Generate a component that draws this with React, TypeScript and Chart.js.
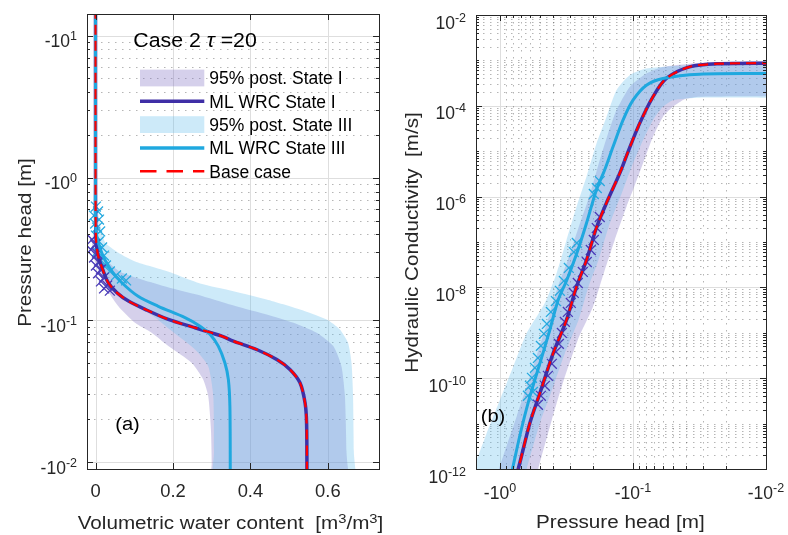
import React, { useEffect, useRef } from "react";
import { Chart, registerables } from "chart.js";

Chart.register(...registerables);

const FAMILY = "'Liberation Sans', Arial, Helvetica, sans-serif";
const AXIS = "#262626";
const GRID_MAJOR = "#dedede";
const GRID_MINOR = "rgba(60,60,60,0.38)";

const C_I_LINE = "#3F2FA6";
const C_III_LINE = "#1FA8DF";
const C_BASE = "#FF0000";
const C_I_BAND = "rgba(125,108,192,0.32)";
const C_III_BAND = "rgba(98,191,236,0.32)";
const C_I_MARK = "#4A3BB8";
const C_III_MARK = "#27AADF";

// ---------------- Panel (a): water retention  [theta (m3/m3), |h| (m)] ----------------
const wrcMlStateI: number[][] = [
  [0.0, 20], [0.0, 1.0], [0.0005, 0.45], [0.002, 0.35], [0.007, 0.281], [0.02, 0.221],
  [0.033, 0.183], [0.055, 0.156], [0.085, 0.136], [0.128, 0.119], [0.188, 0.101],
  [0.257, 0.0883], [0.326, 0.0771], [0.356, 0.0711], [0.416, 0.0621], [0.468, 0.0528],
  [0.502, 0.045], [0.528, 0.0362], [0.541, 0.0262], [0.545, 0.019], [0.546, 0.008],
];
const wrcBaseCase: number[][] = [
  [0.0, 20], [0.0, 1.0], [0.0005, 0.45], [0.002, 0.35], [0.007, 0.281], [0.02, 0.221],
  [0.033, 0.183], [0.055, 0.156], [0.085, 0.136], [0.128, 0.119], [0.188, 0.101],
  [0.257, 0.0883], [0.326, 0.0771], [0.356, 0.0711], [0.416, 0.0621], [0.468, 0.0528],
  [0.502, 0.045], [0.528, 0.0362], [0.541, 0.0262], [0.545, 0.019], [0.546, 0.008],
];
const wrcMlStateIII: number[][] = [
  [0.0, 20], [0.0, 1.0], [0.001, 0.43], [0.016, 0.297], [0.042, 0.221], [0.068, 0.183],
  [0.11, 0.147], [0.162, 0.125], [0.231, 0.104], [0.27, 0.0906], [0.296, 0.0792],
  [0.317, 0.0656], [0.334, 0.0501], [0.343, 0.0383], [0.347, 0.0248], [0.348, 0.008],
];
const wrcBandIIIUpper: number[][] = [
  [0.0, 0.75], [0.012, 0.47], [0.025, 0.351], [0.058, 0.2985], [0.102, 0.258], [0.187, 0.2196],
  [0.27, 0.1808], [0.356, 0.1596], [0.442, 0.1396], [0.528, 0.1187], [0.597, 0.1009],
  [0.631, 0.0859], [0.652, 0.0692], [0.661, 0.0501], [0.665, 0.0292], [0.667, 0.012], [0.667, 0.004],
];
const wrcBandIIILower: number[][] = [
  [0.0, 0.75], [0.0, 0.3685], [0.012, 0.2459], [0.037, 0.1837], [0.076, 0.1465], [0.115, 0.1226],
  [0.154, 0.1043], [0.192, 0.0859], [0.257, 0.0621], [0.291, 0.0474], [0.304, 0.0292],
  [0.306, 0.012], [0.306, 0.004],
];
const wrcBandIUpper: number[][] = [
  [0.0, 0.45], [0.012, 0.3133], [0.027, 0.2667], [0.061, 0.2207], [0.105, 0.1983], [0.191, 0.1687],
  [0.277, 0.1472], [0.363, 0.1252], [0.442, 0.1095], [0.511, 0.0957], [0.571, 0.0814],
  [0.614, 0.0656], [0.635, 0.0474], [0.644, 0.0292], [0.648, 0.012], [0.648, 0.004],
];
const wrcBandILower: number[][] = [
  [0.0, 0.45], [-0.0065, 0.3996], [-0.009, 0.3133], [0.001, 0.2459], [0.0245, 0.173], [0.059, 0.1252],
  [0.102, 0.0957], [0.145, 0.0814], [0.188, 0.0656], [0.248, 0.0501], [0.278, 0.0382],
  [0.291, 0.0292], [0.298, 0.017], [0.3, 0.01], [0.3, 0.004],
];
const wrcObsStateIII: number[][] = [
  [0.001, 0.628], [0.0065, 0.58], [-0.004, 0.543], [0.009, 0.509], [-0.001, 0.477], [0.004, 0.447],
  [0.012, 0.42], [0.001, 0.393], [0.009, 0.357], [0.017, 0.324], [0.004, 0.303], [0.022, 0.284],
  [0.012, 0.258], [0.027, 0.242], [0.037, 0.22], [0.053, 0.206], [0.068, 0.196], [0.079, 0.19],
];
const wrcObsStateI: number[][] = [
  [-0.009, 0.3685], [-0.001, 0.34], [-0.012, 0.313], [0.004, 0.294], [-0.004, 0.275], [0.009, 0.258],
  [0.001, 0.242], [0.014, 0.227], [0.0065, 0.213], [0.022, 0.199], [0.014, 0.187], [0.03, 0.175],
  [0.022, 0.167], [0.037, 0.161],
];

// ---------------- Panel (b): hydraulic conductivity  [|h| (m), K (m/s)] ----------------
const kMlStateI: number[][] = [
  [0.009, 8.7e-4], [0.0224, 8.45e-4], [0.0376, 7.2e-4], [0.0562, 4.0e-4], [0.0708, 1.57e-4],
  [0.0891, 4.1e-5], [0.1077, 1.06e-5], [0.1259, 3.24e-6], [0.1549, 8.4e-7], [0.1872, 2.17e-7],
  [0.2237, 4.0e-8], [0.2658, 1.04e-8], [0.316, 1.92e-9], [0.398, 3.56e-10], [0.501, 4.7e-11],
  [0.596, 1.03e-11], [0.729, 1.0e-12], [0.818, 3.2e-13],
];
const kBaseCase: number[][] = [
  [0.009, 8.7e-4], [0.0224, 8.45e-4], [0.0376, 7.2e-4], [0.0562, 4.0e-4], [0.0708, 1.57e-4],
  [0.0891, 4.1e-5], [0.1077, 1.06e-5], [0.1259, 3.24e-6], [0.1549, 8.4e-7], [0.1872, 2.17e-7],
  [0.2237, 4.0e-8], [0.2658, 1.04e-8], [0.316, 1.92e-9], [0.398, 3.56e-10], [0.501, 4.7e-11],
  [0.596, 1.03e-11], [0.729, 1.0e-12], [0.818, 3.2e-13],
];
const kMlStateIII: number[][] = [
  [0.009, 5.14e-4], [0.0316, 4.97e-4], [0.0596, 3.99e-4], [0.0793, 2.84e-4], [0.1, 1.33e-4],
  [0.1189, 4.83e-5], [0.1413, 1.25e-5], [0.1631, 3.9e-6], [0.1882, 1.42e-6], [0.2237, 2.58e-7],
  [0.2645, 5.64e-8], [0.3144, 1.46e-8], [0.3652, 5.3e-9], [0.4288, 9.8e-10], [0.5097, 1.81e-10],
  [0.6058, 3.34e-11], [0.7018, 6.2e-12], [0.806, 1.0e-12], [0.89, 3.0e-13],
];
const kBandIIIUpper: number[][] = [
  [0.009, 9.1e-4], [0.0376, 7.83e-4], [0.0793, 6.62e-4], [0.1059, 4.72e-4], [0.1332, 2.21e-4],
  [0.1583, 5.7e-5], [0.1882, 1.48e-5], [0.2237, 2.73e-6], [0.2658, 5.98e-7], [0.316, 1.11e-7],
  [0.3755, 2.05e-8], [0.4597, 4.55e-9], [0.6305, 9.8e-10], [0.7947, 1.81e-10], [1.0, 3.34e-11],
  [1.258, 6.19e-12], [1.496, 1.6e-12], [1.8, 4.8e-13],
];
const kBandIIILower: number[][] = [
  [0.009, 1.51e-4], [0.0316, 1.51e-4], [0.0501, 1.33e-4], [0.0596, 9.5e-5], [0.0708, 4.83e-5],
  [0.0841, 1.75e-5], [0.1, 5.4e-6], [0.1189, 1.39e-6], [0.1522, 2.17e-7], [0.1818, 4.02e-8],
  [0.2161, 1.04e-8], [0.2568, 1.92e-9], [0.3254, 3.56e-10], [0.4144, 4.7e-11], [0.501, 1.03e-11],
  [0.6305, 1.0e-12], [0.7, 3.0e-13],
];
const kBandIUpper: number[][] = [
  [0.009, 9.6e-4], [0.03, 8.9e-4], [0.0599, 7.18e-4], [0.0793, 5.14e-4], [0.1059, 2.61e-4],
  [0.1332, 8.0e-5], [0.154, 2.46e-5], [0.1778, 6.37e-6], [0.1995, 1.95e-6], [0.2176, 8.4e-7],
  [0.2555, 2.17e-7], [0.309, 4.02e-8], [0.3671, 1.04e-8], [0.4363, 1.92e-9], [0.5626, 1.81e-10],
  [0.7495, 1.44e-11], [1.017, 1.0e-12], [1.12, 3.0e-13],
];
const kBandILower: number[][] = [
  [0.009, 1.63e-4], [0.0316, 1.59e-4], [0.0409, 1.4e-4], [0.0501, 9.5e-5], [0.0596, 5.7e-5],
  [0.0708, 2.07e-5], [0.0841, 5.4e-6], [0.1, 1.39e-6], [0.112, 6.0e-7], [0.1372, 1.11e-7],
  [0.1659, 2.05e-8], [0.1995, 3.78e-9], [0.26, 6.98e-10], [0.3311, 9.2e-11], [0.4074, 1.21e-11],
  [0.516, 1.0e-12], [0.57, 3.0e-13],
];
const kObsStateI: number[][] = [
  [0.1778, 3.55e-7], [0.1872, 2.03e-7], [0.1971, 1.11e-7], [0.2077, 6.67e-8], [0.2225, 3.63e-8],
  [0.2384, 2.19e-8], [0.26, 1.25e-8], [0.2786, 7.55e-9], [0.2934, 4.55e-9], [0.309, 2.88e-9],
  [0.3254, 1.74e-9], [0.3426, 9.95e-10], [0.3608, 5.7e-10], [0.38, 3.8e-10], [0.4074, 2.07e-10],
  [0.4363, 1.13e-10], [0.4597, 6.8e-11], [0.4926, 4.09e-11], [0.5188, 2.6e-11],
];
const kObsStateIII: number[][] = [
  [0.1778, 2.2e-6], [0.1872, 1.54e-6], [0.1971, 1.14e-6], [0.2645, 9.5e-8], [0.2786, 6.0e-8],
  [0.3037, 2.68e-8], [0.3311, 1.39e-8], [0.3548, 8.4e-9], [0.38, 5.0e-9], [0.4144, 2.88e-9],
  [0.4441, 1.57e-9], [0.4677, 9.5e-10], [0.4926, 5.15e-10], [0.5188, 2.8e-10], [0.5463, 1.69e-10],
  [0.5752, 1.02e-10], [0.5956, 6.8e-11], [0.5656, 5.0e-11], [0.6166, 4.1e-11],
];

// ---------------- ticks & labels ----------------
const thetaTicks = [0, 0.2, 0.4, 0.6];
const thetaTickLabels = ["0", "0.2", "0.4", "0.6"];
const headDecadesA = [1, 0, -1, -2];
const headDecadesB = [0, -1, -2];
const kDecadesLabelled = [-2, -4, -6, -8, -10, -12];
const kDecadesUnlabelled = [-3, -5, -7, -9, -11];

const legendLabels = [
  "95% post. State I",
  "ML WRC State I",
  "95% post. State III",
  "ML WRC State III",
  "Base case",
];

// ---------------- helpers ----------------
type Seg = { t: string; size?: number; dy?: number; italic?: boolean };

function fontStr(size: number, italic?: boolean) {
  return `${italic ? "italic " : ""}${size}px ${FAMILY}`;
}

function drawText(
  ctx: CanvasRenderingContext2D,
  segs: Seg[],
  x: number,
  y: number,
  align: "left" | "center" | "right",
  sx = 1,
  base = 17.5,
  color = AXIS,
  rotate = false
) {
  ctx.save();
  ctx.translate(x, y);
  if (rotate) ctx.rotate(-Math.PI / 2);
  ctx.fillStyle = color;
  ctx.textAlign = "left";
  ctx.textBaseline = "alphabetic";
  const ws = segs.map((s) => {
    ctx.font = fontStr(s.size ?? base, s.italic);
    return ctx.measureText(s.t).width * sx;
  });
  const tot = ws.reduce((p, c) => p + c, 0);
  let cx = align === "left" ? 0 : align === "center" ? -tot / 2 : -tot;
  segs.forEach((s, i) => {
    ctx.font = fontStr(s.size ?? base, s.italic);
    ctx.save();
    ctx.translate(cx, s.dy ?? 0);
    ctx.scale(sx, 1);
    ctx.fillText(s.t, 0, 0);
    ctx.restore();
    cx += ws[i];
  });
  ctx.restore();
}

const pow = (b: string, e: number): Seg[] => [{ t: b }, { t: String(e), size: 12.5, dy: -7 }];

function hLine(ctx: CanvasRenderingContext2D, y: number, a: any) {
  const yy = Math.round(y) + 0.5;
  ctx.beginPath();
  ctx.moveTo(a.left, yy);
  ctx.lineTo(a.right, yy);
  ctx.stroke();
}
function vLine(ctx: CanvasRenderingContext2D, x: number, a: any) {
  const xx = Math.round(x) + 0.5;
  ctx.beginPath();
  ctx.moveTo(xx, a.top);
  ctx.lineTo(xx, a.bottom);
  ctx.stroke();
}
function yTick(ctx: CanvasRenderingContext2D, y: number, a: any, len: number) {
  const yy = Math.round(y) + 0.5;
  ctx.beginPath();
  ctx.moveTo(a.left, yy);
  ctx.lineTo(a.left + len, yy);
  ctx.moveTo(a.right, yy);
  ctx.lineTo(a.right - len, yy);
  ctx.stroke();
}
function xTick(ctx: CanvasRenderingContext2D, x: number, a: any, len: number) {
  const xx = Math.round(x) + 0.5;
  ctx.beginPath();
  ctx.moveTo(xx, a.bottom);
  ctx.lineTo(xx, a.bottom - len);
  ctx.moveTo(xx, a.top);
  ctx.lineTo(xx, a.top + len);
  ctx.stroke();
}
function logMinors(min: number, max: number) {
  const out: number[] = [];
  for (let e = Math.floor(Math.log10(min)) - 1; e <= Math.ceil(Math.log10(max)); e++) {
    for (let k = 2; k <= 9; k++) {
      const v = k * Math.pow(10, e);
      if (v > min && v < max) out.push(v);
    }
  }
  return out;
}
function drawBox(ctx: CanvasRenderingContext2D, a: any) {
  ctx.strokeStyle = AXIS;
  ctx.lineWidth = 1;
  ctx.strokeRect(Math.round(a.left) + 0.5, Math.round(a.top) + 0.5, Math.round(a.right - a.left), Math.round(a.bottom - a.top));
}

const pts = (arr: number[][]) => arr.map(([x, y]) => ({ x, y }));
const poly = (edgeA: number[][], edgeB: number[][]) => pts([...edgeA, ...edgeB.slice().reverse()]);

function buildDatasets(d: {
  bandIA: number[][]; bandIB: number[][]; bandIIIA: number[][]; bandIIIB: number[][];
  obsI: number[][]; obsIII: number[][]; mlI: number[][]; mlIII: number[][]; base: number[][];
}) {
  const bandCommon = { showLine: true, fill: "shape", borderWidth: 0, pointRadius: 0, tension: 0.2, clip: 0 };
  const lineCommon = { showLine: true, fill: false, pointRadius: 0, tension: 0.3, borderCapStyle: "butt" };
  return [
    { label: legendLabels[0], data: poly(d.bandIA, d.bandIB), backgroundColor: C_I_BAND, borderColor: "rgba(0,0,0,0)", order: 10, ...bandCommon },
    { label: legendLabels[2], data: poly(d.bandIIIA, d.bandIIIB), backgroundColor: C_III_BAND, borderColor: "rgba(0,0,0,0)", order: 9, ...bandCommon },
    { label: "obs State III", data: pts(d.obsIII), showLine: false, pointStyle: "crossRot", pointRadius: 7, pointBorderColor: C_III_MARK, pointBorderWidth: 1.3, order: 8 },
    { label: "obs State I", data: pts(d.obsI), showLine: false, pointStyle: "crossRot", pointRadius: 7, pointBorderColor: C_I_MARK, pointBorderWidth: 1.3, order: 7 },
    { label: legendLabels[1], data: pts(d.mlI), borderColor: C_I_LINE, borderWidth: 3.5, order: 6, ...lineCommon },
    { label: legendLabels[3], data: pts(d.mlIII), borderColor: C_III_LINE, borderWidth: 3, order: 5, ...lineCommon },
    { label: legendLabels[4], data: pts(d.base), borderColor: C_BASE, borderWidth: 2.2, borderDash: [10, 6], order: 1, ...lineCommon },
  ];
}

const commonOptions = {
  responsive: false,
  maintainAspectRatio: false,
  animation: false,
  devicePixelRatio: 1,
  events: [],
  elements: { line: { capBezierPoints: false } },
  plugins: { legend: { display: false }, tooltip: { enabled: false } },
};

// ---------------- panel (a) plugin ----------------
const framePluginA = {
  id: "frameA",
  beforeDatasetsDraw(chart: any) {
    const { ctx, chartArea: a } = chart;
    const xs = chart.scales.x;
    const ys = chart.scales.y;
    ctx.save();
    ctx.strokeStyle = GRID_MAJOR;
    ctx.lineWidth = 1;
    thetaTicks.forEach((v) => vLine(ctx, xs.getPixelForValue(v), a));
    headDecadesA.forEach((e) => hLine(ctx, ys.getPixelForValue(Math.pow(10, e)), a));
    ctx.setLineDash([1.5, 5.5]);
    ctx.strokeStyle = GRID_MINOR;
    logMinors(ys.min, ys.max).forEach((v) => hLine(ctx, ys.getPixelForValue(v), a));
    ctx.restore();
  },
  afterDatasetsDraw(chart: any) {
    const { ctx, chartArea: a } = chart;
    const xs = chart.scales.x;
    const ys = chart.scales.y;
    ctx.save();
    ctx.strokeStyle = AXIS;
    ctx.lineWidth = 1;
    thetaTicks.forEach((v) => xTick(ctx, xs.getPixelForValue(v), a, 6));
    headDecadesA.forEach((e) => yTick(ctx, ys.getPixelForValue(Math.pow(10, e)), a, 6));
    logMinors(ys.min, ys.max).forEach((v) => yTick(ctx, ys.getPixelForValue(v), a, 3));
    drawBox(ctx, a);

    thetaTicks.forEach((v, i) =>
      drawText(ctx, [{ t: thetaTickLabels[i] }], xs.getPixelForValue(v), a.bottom + 28, "center", 1.05)
    );
    headDecadesA.forEach((e) =>
      drawText(ctx, pow("-10", e), a.left - 10, ys.getPixelForValue(Math.pow(10, e)) + 11.5, "right", 1.0)
    );
    drawText(
      ctx,
      [
        { t: "Volumetric water content  [m" },
        { t: "3", size: 12.5, dy: -6 },
        { t: "/m" },
        { t: "3", size: 12.5, dy: -6 },
        { t: "]" },
      ],
      230.5, 528.5, "center", 1.18
    );
    drawText(ctx, [{ t: "Pressure head [m]" }], 31, 242.5, "center", 1.18, 17.5, AXIS, true);

    drawText(ctx, [{ t: "Case 2 " }, { t: "τ", italic: true }, { t: " =20" }], 133.3, 46.5, "left", 1.04, 20.5, "#000");
    drawText(ctx, [{ t: "(a)" }], 127.5, 430, "center", 1.12, 18, "#000");

    // legend
    const x0 = 140, x1 = 204.3, tx = 209.3;
    const rows = [78, 101.3, 124.6, 147.9, 171.2];
    const kinds = [
      { kind: "box", color: C_I_BAND },
      { kind: "line", color: C_I_LINE, w: 3.5 },
      { kind: "box", color: C_III_BAND },
      { kind: "line", color: C_III_LINE, w: 3.5 },
      { kind: "dash", color: C_BASE, w: 2.5 },
    ];
    kinds.forEach((k, i) => {
      const cy = rows[i];
      ctx.save();
      if (k.kind === "box") {
        ctx.fillStyle = k.color;
        ctx.fillRect(x0, cy - 8.4, x1 - x0, 16.8);
      } else {
        ctx.strokeStyle = k.color;
        ctx.lineWidth = k.w as number;
        if (k.kind === "dash") ctx.setLineDash([16.5, 10]);
        ctx.beginPath();
        ctx.moveTo(x0, cy);
        ctx.lineTo(x1, cy);
        ctx.stroke();
      }
      ctx.restore();
      drawText(ctx, [{ t: legendLabels[i] }], tx, cy + 6.3, "left", 1.0, 17.5, "#000");
    });
    ctx.restore();
  },
};

// ---------------- panel (b) plugin ----------------
const framePluginB = {
  id: "frameB",
  beforeDatasetsDraw(chart: any) {
    const { ctx, chartArea: a } = chart;
    const xs = chart.scales.x;
    const ys = chart.scales.y;
    ctx.save();
    ctx.strokeStyle = GRID_MAJOR;
    ctx.lineWidth = 1;
    headDecadesB.forEach((e) => vLine(ctx, xs.getPixelForValue(Math.pow(10, e)), a));
    kDecadesLabelled.forEach((e) => hLine(ctx, ys.getPixelForValue(Math.pow(10, e)), a));
    ctx.setLineDash([1.5, 5.5]);
    ctx.strokeStyle = GRID_MINOR;
    logMinors(xs.min, xs.max).forEach((v) => vLine(ctx, xs.getPixelForValue(v), a));
    [...logMinors(ys.min, ys.max), ...kDecadesUnlabelled.map((e) => Math.pow(10, e))].forEach((v) =>
      hLine(ctx, ys.getPixelForValue(v), a)
    );
    ctx.restore();
  },
  afterDatasetsDraw(chart: any) {
    const { ctx, chartArea: a } = chart;
    const xs = chart.scales.x;
    const ys = chart.scales.y;
    ctx.save();
    ctx.strokeStyle = AXIS;
    ctx.lineWidth = 1;
    headDecadesB.forEach((e) => xTick(ctx, xs.getPixelForValue(Math.pow(10, e)), a, 6));
    logMinors(xs.min, xs.max).forEach((v) => xTick(ctx, xs.getPixelForValue(v), a, 3));
    kDecadesLabelled.forEach((e) => yTick(ctx, ys.getPixelForValue(Math.pow(10, e)), a, 6));
    [...logMinors(ys.min, ys.max), ...kDecadesUnlabelled.map((e) => Math.pow(10, e))].forEach((v) =>
      yTick(ctx, ys.getPixelForValue(v), a, 3)
    );
    drawBox(ctx, a);

    headDecadesB.forEach((e) =>
      drawText(ctx, pow("-10", e), xs.getPixelForValue(Math.pow(10, e)), a.bottom + 30, "center", 1.0)
    );
    kDecadesLabelled.forEach((e) =>
      drawText(ctx, pow("10", e), a.left - 10, ys.getPixelForValue(Math.pow(10, e)) + 13.5, "right", 1.0)
    );
    drawText(ctx, [{ t: "Pressure head [m]" }], 226.4, 528.3, "center", 1.18);
    drawText(ctx, [{ t: "Hydraulic Conductivity  [m/s]" }], 23.5, 242.5, "center", 1.18, 17.5, AXIS, true);
    drawText(ctx, [{ t: "(b)" }], 99, 422, "center", 1.12, 18, "#000");
    ctx.restore();
  },
};

function configA(): any {
  return {
    type: "scatter",
    data: {
      datasets: buildDatasets({
        bandIA: wrcBandILower, bandIB: wrcBandIUpper, bandIIIA: wrcBandIIILower, bandIIIB: wrcBandIIIUpper,
        obsI: wrcObsStateI, obsIII: wrcObsStateIII, mlI: wrcMlStateI, mlIII: wrcMlStateIII, base: wrcBaseCase,
      }),
    },
    options: {
      ...commonOptions,
      layout: { padding: { left: 87, right: 15, top: 14, bottom: 66 } },
      scales: {
        x: { type: "linear", min: -0.022, max: 0.732, display: false },
        y: { type: "logarithmic", min: 0.00897, max: 14.2, display: false },
      },
    },
    plugins: [framePluginA],
  };
}

function configB(): any {
  return {
    type: "scatter",
    data: {
      datasets: buildDatasets({
        bandIA: kBandIUpper, bandIB: kBandILower, bandIIIA: kBandIIIUpper, bandIIIB: kBandIIILower,
        obsI: kObsStateI, obsIII: kObsStateIII, mlI: kMlStateI, mlIII: kMlStateIII, base: kBaseCase,
      }),
    },
    options: {
      ...commonOptions,
      layout: { padding: { left: 82, right: 22, top: 15, bottom: 66 } },
      scales: {
        x: { type: "logarithmic", min: 0.01, max: 1.515, reverse: true, display: false },
        y: { type: "logarithmic", min: 1e-12, max: 1e-2, display: false },
      },
    },
    plugins: [framePluginB],
  };
}

export default function App() {
  const refA = useRef<HTMLCanvasElement>(null);
  const refB = useRef<HTMLCanvasElement>(null);
  useEffect(() => {
    const ca = new Chart(refA.current as HTMLCanvasElement, configA());
    const cb = new Chart(refB.current as HTMLCanvasElement, configB());
    return () => {
      ca.destroy();
      cb.destroy();
    };
  }, []);
  return (
    <div style={{ position: "absolute", left: 0, top: 0, width: 788, height: 535, background: "#fff", overflow: "hidden" }}>
      <canvas ref={refA} width={394} height={535} style={{ position: "absolute", left: 0, top: 0, width: 394, height: 535 }} />
      <canvas ref={refB} width={394} height={535} style={{ position: "absolute", left: 394, top: 0, width: 394, height: 535 }} />
    </div>
  );
}
